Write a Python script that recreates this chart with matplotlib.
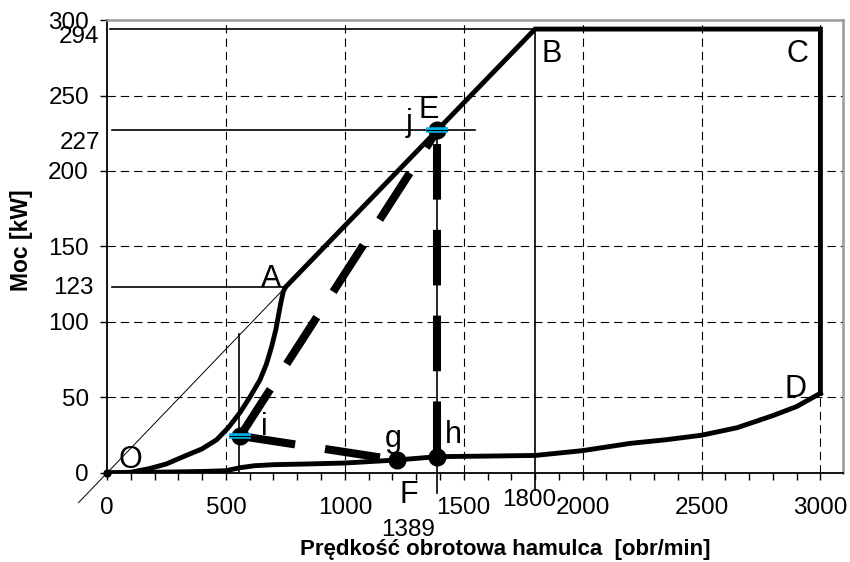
import matplotlib.pyplot as plt

plt.rcParams['font.family'] = ['Liberation Sans', 'DejaVu Sans']

# krzywa O-A (rozruch)
oa_x = [0, 100, 181, 250, 321, 400, 461, 510, 559, 600, 643, 670, 692, 710, 720, 730, 741, 750]
oa_y = [0, 0.5, 3, 6, 10.8, 16, 22, 30, 40, 50, 61.6, 72, 83.6, 95, 103.5, 112, 120, 123]
# charakterystyka A-B-C-D
abcd_x = [750, 1800, 3000, 3000]
abcd_y = [123, 294, 294, 52.8]
# dolna krzywa D-O (opory)
low_x = [0, 200, 400, 500, 560, 620, 700, 850, 1000, 1219, 1389, 1600, 1800, 2000,
         2200, 2350, 2500, 2650, 2800, 2900, 3000]
low_y = [0, 0.5, 1, 1.5, 3.5, 4.8, 5.5, 6, 6.6, 8.6, 10.8, 11.2, 11.6, 14.8,
         19.6, 22, 25, 30, 38, 44, 52.8]
# punkty charakterystyczne
pt_i = (560, 24.5)
pt_g = (1219, 8.6)
pt_h = (1389, 10.8)
pt_E = (1389, 227)

xticks = [0, 500, 1000, 1500, 2000, 2500, 3000]
yticks = [0, 50, 100, 150, 200, 250, 300]

fig = plt.figure(figsize=(8.5, 5.62), dpi=100)
ax = fig.add_axes([0.1259, 0.1584, 0.8659, 0.806])
ax.set_xlim(0, 3095)
ax.set_ylim(0, 300)

# siatka
for x in xticks[1:]:
    ax.plot([x, x], [0, 300], color='black', lw=0.8, ls=(0, (7.5, 4.5)), zorder=1)
for y in yticks[1:-1]:
    ax.plot([0, 3095], [y, y], color='black', lw=0.8, ls=(0, (7.5, 4.5)), zorder=1)

# cienkie linie pomocnicze
ax.plot([-120, 750], [-19.7, 123], color='black', lw=0.7, clip_on=False)
ax.plot([13, 1800], [294, 294], color='black', lw=1.2, clip_on=False)
ax.plot([21, 1546], [227, 227], color='black', lw=1.2, clip_on=False)
ax.plot([20, 750], [123, 123], color='black', lw=1.2, clip_on=False)
ax.plot([1800, 1800], [-11, 294], color='black', lw=1.2, clip_on=False)
ax.plot([1389, 1389], [-13, 227], color='black', lw=1.2, clip_on=False)
ax.plot([555, 555], [0, 92], color='black', lw=1.2)

# grube linie
ax.plot(oa_x, oa_y, color='black', lw=3.5, solid_capstyle='butt', zorder=3)
ax.plot(abcd_x, abcd_y, color='black', lw=3.5, solid_joinstyle='miter', zorder=3)
ax.plot(low_x, low_y, color='black', lw=3.5, zorder=3)

dash = (0, (6.9, 3.75))
ax.plot([pt_i[0], pt_E[0]], [pt_i[1], pt_E[1]], color='black', lw=5.8, ls=dash,
        dash_capstyle='butt', zorder=3)
ax.plot([pt_i[0], pt_g[0]], [pt_i[1], pt_g[1]], color='black', lw=5.8, ls=dash,
        dash_capstyle='butt', zorder=3)
ax.plot([pt_h[0], pt_E[0]], [pt_h[1], pt_E[1]], color='black', lw=5.8, ls=dash,
        dash_capstyle='butt', zorder=3)

# znaczniki
ax.plot([0], [0], 'o', color='black', ms=5, zorder=4, clip_on=False)
for p in [pt_i, pt_g, pt_h, pt_E]:
    ax.plot([p[0]], [p[1]], 'o', color='black', ms=12, zorder=4)
for p in [pt_i, pt_E]:
    ax.plot([p[0]], [p[1]], '_', color='#00B4E8', ms=16, mew=4, zorder=5)
    ax.plot([p[0]], [p[1]], '_', color='black', ms=16, mew=0.8, zorder=6)

# osie
fs = 17.5
ax.set_xticks(xticks)
ax.set_xticks(range(0, 3001, 100), minor=True)
ax.set_yticks(yticks)
ax.tick_params(axis='both', direction='out', length=5, width=1, labelsize=fs)
ax.tick_params(axis='x', which='minor', direction='out', length=5, width=1)
ax.tick_params(axis='x', pad=12)
ax.tick_params(axis='y', pad=8)
for s in ['left', 'bottom']:
    ax.spines[s].set_linewidth(1.3)
for s in ['top', 'right']:
    ax.spines[s].set_color('#999999')
    ax.spines[s].set_linewidth(1.8)

# dodatkowe opisy osi
ytr = ax.get_yaxis_transform()
ax.text(-0.010, 289, '294', transform=ytr, ha='right', va='center', fontsize=fs)
ax.text(-0.009, 218.5, '227', transform=ytr, ha='right', va='center', fontsize=fs)
ax.text(-0.018, 122.5, '123', transform=ytr, ha='right', va='center', fontsize=fs)
ax.text(1775, -21.9, '1800', ha='center', va='baseline', fontsize=fs)
ax.text(1266, -42, '1389', ha='center', va='baseline', fontsize=fs)

# litery
letters = [('O', 97, 3.3), ('A', 690, 123.2), ('B', 1871, 272.2), ('C', 2902, 272.2),
           ('D', 2897, 50.3), ('E', 1354, 235.1), ('j', 1270, 226.5), ('i', 660, 25.2),
           ('g', 1203, 17.2), ('h', 1455, 19.9), ('F', 1270, -19.9)]
for t, x, y in letters:
    ax.text(x, y, t, ha='center', va='baseline', fontsize=22)

ax.set_xlabel('Prędkość obrotowa hamulca  [obr/min]', fontsize=16, fontweight='bold')
ax.set_ylabel('Moc [kW]', fontsize=16.5, fontweight='bold')
ax.xaxis.set_label_coords(0.541, -0.146)
ax.yaxis.set_label_coords(-0.1005, 0.514)

fig.savefig('out.png', dpi=100)
